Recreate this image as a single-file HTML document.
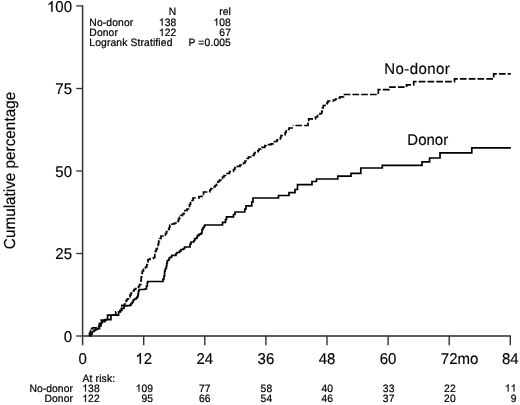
<!DOCTYPE html>
<html><head><meta charset="utf-8"><style>
html,body{margin:0;padding:0;background:#fff;}
svg{display:block;will-change:transform;}
text{font-family:"Liberation Sans",sans-serif;fill:#000;stroke:#000;stroke-width:0.15px;text-rendering:geometricPrecision;}
.s{stroke-width:0.22px;}
#one{fill:#000;stroke:#000;stroke-width:0.18px;vector-effect:non-scaling-stroke;}
</style></head><body>
<svg width="520" height="405" viewBox="0 0 520 405">
<defs><path id="one" d="M763 0H583V1147Q518 1085 412.5 1023Q307 961 223 930V1104Q374 1175 487 1276Q600 1377 647 1472H763Z"/></defs>
<rect width="520" height="405" fill="#fff"/>

<g fill="none">
<path d="M82.6,5.3 V336.6" stroke="#333" stroke-width="1.5"/>
<path d="M82.6,336 H510.3" stroke="#2a2a2a" stroke-width="1.3"/>
<path d="M76.2,5.9 H82.6" stroke="#333" stroke-width="1.3"/>
<path d="M76.2,88.5 H82.6" stroke="#333" stroke-width="1.3"/>
<path d="M76.2,171.0 H82.6" stroke="#333" stroke-width="1.3"/>
<path d="M76.2,253.5 H82.6" stroke="#333" stroke-width="1.3"/>
<path d="M76.2,336.0 H82" stroke="#2a2a2a" stroke-width="1.3"/>
<path d="M143.7,335.4 V345.3" stroke="#333" stroke-width="1.4"/>
<path d="M204.8,335.4 V345.3" stroke="#333" stroke-width="1.4"/>
<path d="M265.9,335.4 V345.3" stroke="#333" stroke-width="1.4"/>
<path d="M327.0,335.4 V345.3" stroke="#333" stroke-width="1.4"/>
<path d="M388.1,335.4 V345.3" stroke="#333" stroke-width="1.4"/>
<path d="M449.2,335.4 V345.3" stroke="#333" stroke-width="1.4"/>
<path d="M510.3,335.4 V345.3" stroke="#333" stroke-width="1.4"/>
<path d="M82.6,336.6 V345.3" stroke="#333" stroke-width="1.5"/>
</g>
<text transform="translate(46.97,11.80) scale(1,1.04)" font-size="15" letter-spacing="0" > 00</text>
<use href="#one" transform="translate(46.97,11.80) scale(0.00732,-0.00732)"/>
<text transform="translate(55.32,94.40) scale(1,1.04)" font-size="15" letter-spacing="0" >75</text>
<text transform="translate(55.32,176.90) scale(1,1.04)" font-size="15" letter-spacing="0" >50</text>
<text transform="translate(55.32,259.40) scale(1,1.04)" font-size="15" letter-spacing="0" >25</text>
<text transform="translate(63.66,341.90) scale(1,1.04)" font-size="15" letter-spacing="0" >0</text>
<text transform="translate(78.43,363.70) scale(1,1.04)" font-size="15" letter-spacing="0" >0</text>
<text transform="translate(135.36,363.70) scale(1,1.04)" font-size="15" letter-spacing="0" > 2</text>
<use href="#one" transform="translate(135.36,363.70) scale(0.00732,-0.00732)"/>
<text transform="translate(196.46,363.70) scale(1,1.04)" font-size="15" letter-spacing="0" >24</text>
<text transform="translate(257.56,363.70) scale(1,1.04)" font-size="15" letter-spacing="0" >36</text>
<text transform="translate(318.66,363.70) scale(1,1.04)" font-size="15" letter-spacing="0" >48</text>
<text transform="translate(379.76,363.70) scale(1,1.04)" font-size="15" letter-spacing="0" >60</text>
<text transform="translate(440.86,363.70) scale(1,1.04)" font-size="15" letter-spacing="0" >72</text>
<text transform="translate(457.54,363.70) scale(1,1.04)" font-size="15" letter-spacing="0" text-anchor="start" >mo</text>
<text transform="translate(501.96,363.70) scale(1,1.04)" font-size="15" letter-spacing="0" >84</text>
<text font-size="15.3" text-anchor="middle" transform="translate(14.8,170.5) rotate(-90) scale(1,1.04)">Cumulative percentage</text>
<text transform="translate(176.40,15.30) scale(1,1.04)" font-size="10.3" letter-spacing="0.14" text-anchor="end" class="s">N</text>
<text transform="translate(231.00,15.30) scale(1,1.04)" font-size="10.3" letter-spacing="0.14" text-anchor="end" class="s">rel</text>
<text transform="translate(89.30,25.60) scale(1,1.04)" font-size="10.3" letter-spacing="0.14" text-anchor="start" class="s">No-donor</text>
<text transform="translate(158.79,25.60) scale(1,1.04)" font-size="10.3" letter-spacing="0.14" class="s"> 38</text>
<use href="#one" transform="translate(158.79,25.60) scale(0.00503,-0.00503)"/>
<text transform="translate(213.39,25.60) scale(1,1.04)" font-size="10.3" letter-spacing="0.14" class="s"> 08</text>
<use href="#one" transform="translate(213.39,25.60) scale(0.00503,-0.00503)"/>
<text transform="translate(89.30,35.90) scale(1,1.04)" font-size="10.3" letter-spacing="0.14" text-anchor="start" class="s">Donor</text>
<text transform="translate(158.79,35.90) scale(1,1.04)" font-size="10.3" letter-spacing="0.14" class="s"> 22</text>
<use href="#one" transform="translate(158.79,35.90) scale(0.00503,-0.00503)"/>
<text transform="translate(219.26,35.90) scale(1,1.04)" font-size="10.3" letter-spacing="0.14" class="s">67</text>
<text transform="translate(89.30,46.30) scale(1,1.04)" font-size="10.3" letter-spacing="0.14" text-anchor="start" class="s">Logrank Stratified</text>
<text transform="translate(231.00,46.30) scale(1,1.04)" font-size="10.3" letter-spacing="0.14" text-anchor="end" class="s">P =0.005</text>
<path d="M89.5,336 V333 H90.5 V330.5 H91.5 V328.8 H92.5 V327.9 H98.6 V326.5 H99.3 V323.5 H100.3 V321 H101.2 V320.2 H107.6 V315.2 H115.8 V311.8 H120.3 V310.5 H121.8 V305.3 H124.5 V304 H125 V302.5 H126.2 V300.5 H127 V299 H128.5 V297 H130 V295 H131 V293 H132.5 V291 H134 V289.5 H135.5 V288.5 H138.5 V286.5 H139.5 V284.5 H140.8 V281 H141.2 V277 H141.7 V273.5 H142.3 V271 H143.5 V269 H145.5 V267 H146.8 V264.5 H147.4 V262 H148 V259.5 H150 V258.5 H153.5 V257.5 H154.8 V254.5 H155.5 V251 H156.2 V249 H157.3 V247 H158.2 V244 H158.7 V241 H159.5 V238.5 H161 V236 H163 V235 H165.5 V233.5 H166.5 V231.5 H167.8 V229.5 H169.2 V227.5 H169.8 V225 H172 V224 H174.5 V223 H177.5 V221.5 H178.5 V219 H179.5 V217 H180.5 V215.5 H182.5 V214 H184 V212 H185 V210.5 H187 V209 H188.5 V207.5 H189.5 V204.5 H190.5 V202.5 H192 V200.5 H193 V198 H199 V196.5 H202 V194.5 H203.5 V192 H209.8 V190 H210.8 V188.5 H212.5 V187 H215 V185.5 H216.5 V183.5 H218 V181.5 H219.5 V180 H221 V178.5 H222.5 V177 H224 V175.5 H225.5 V173.5 H229.5 V171.5 H233.5 V169.5 H234.8 V167.5 H235.5 V166.3 H240 V165 H243.5 V163 H245 V161 H246 V158.5 H248.5 V157 H252.5 V155.5 H254 V153.5 H255 V152.5 H258 V150.5 H259 V149 H261 V148 H262 V147.3 H264.8 V145.5 H266 V144.6 H271 V143.8 H273 V142.6 H274.5 V141.5 H277 V139.8 H280.4 V137.5 H281 V135.5 H283 V134.7 H285.2 V132.5 H286.2 V130.8 H287.3 V129.5 H289 V128 H292.2 V126.2 H293.2 V125.5" fill="none" stroke="#000" stroke-width="1.7" stroke-dasharray="6.7 2.1"/>
<path d="M293.2,125.5 H308 V121.5 H308.7 V118.8 H315.5 V117 H317.5 V115.5 H320 V113.5 H321.8 V111 H322.3 V108 H323.3 V105.5 H325 V104 H327 V102.5 H328 V101 H333.5 V100 H335.5 V99 H338 V98 H340 V96.8 H343.5 V94.5 H378.3 V89.7 H388.9 V87.2 H406.5 V84.8 H413.7 V81.6 H454.5 V78.8 H493.7 V73.8 H510.8" fill="none" stroke="#000" stroke-width="1.7" stroke-dasharray="6.7 2.1" stroke-dashoffset="6.6"/>
<path d="M89.5,336 H90.8 V334 H92.2 V331.5 H94 V330.3 H95.5 V329.4 H97.5 V328.7 H99.5 V326 H101 V323.4 H101.8 V321.7 H105 V319.6 H110.9 V315.2 H118.6 V311.8 H120 V310.5 H121.3 V308.4 H124 V306 H127 V305.7 H130 V305.2 H131 V303.5 H132.3 V302 H133.2 V300 H134.5 V299 H136.2 V298 H137 V297 H137.8 V295.5 H138.2 V293.4 H138.5 V291 H139.2 V289.5 H144.5 V289 H146.5 V286 H147.3 V282.5 H147.9 V281.5 H163 V279 H164 V276 H164.6 V271 H165.3 V268.5 H166.3 V266 H166.8 V263 H167.3 V260.5 H168.8 V259 H169.5 V257.5 H171.3 V256.5 H171.8 V255.3 H176 V253.5 H177 V252.5 H179.5 V251 H181 V249.5 H183.5 V248.5 H184.6 V247 H190 V244 H191 V242 H193.8 V240.5 H194.8 V238.5 H196.8 V237 H197.5 V235.3 H199.2 V234.2 H201.3 V233 H202 V229.5 H203 V227.5 H204.2 V226 H204.8 V225 H222.5 V222.3 H225.5 V219.5 H226.5 V216.8 H233.5 V214.5 H235 V212 H244.8 V209 H246 V205.8 H251.8 V202 H253 V198 H278.5 V195.5 H289 V192.6 H295 V189.5 H297.5 V184.6 H312 V181.5 H316.5 V179 H337.8 V176.2 H351 V173.3 H360.8 V168 H382.3 V165.4 H422 V161.8 H429.6 V158 H440 V152.8 H471.8 V147.9 H510.8" fill="none" stroke="#000" stroke-width="1.7"/>
<text transform="translate(384.30,73.80) scale(1,1.04)" font-size="15" letter-spacing="0.4" text-anchor="start" >No-donor</text>
<text transform="translate(407.30,144.90) scale(1,1.04)" font-size="15" letter-spacing="0" text-anchor="start" >Donor</text>
<text transform="translate(82.60,381.80) scale(1,1.04)" font-size="10.3" letter-spacing="0.14" text-anchor="start" class="s">At risk:</text>
<text transform="translate(73.00,391.60) scale(1,1.04)" font-size="10.3" letter-spacing="0.08" text-anchor="end" class="s">No-donor</text>
<text transform="translate(73.00,401.90) scale(1,1.04)" font-size="10.3" letter-spacing="0.08" text-anchor="end" class="s">Donor</text>
<text transform="translate(82.19,391.60) scale(1,1.04)" font-size="10.3" letter-spacing="0.14" class="s"> 38</text>
<use href="#one" transform="translate(82.19,391.60) scale(0.00503,-0.00503)"/>
<text transform="translate(82.19,401.90) scale(1,1.04)" font-size="10.3" letter-spacing="0.14" class="s"> 22</text>
<use href="#one" transform="translate(82.19,401.90) scale(0.00503,-0.00503)"/>
<text transform="translate(135.59,391.60) scale(1,1.04)" font-size="10.3" letter-spacing="0.14" class="s"> 09</text>
<use href="#one" transform="translate(135.59,391.60) scale(0.00503,-0.00503)"/>
<text transform="translate(141.46,401.90) scale(1,1.04)" font-size="10.3" letter-spacing="0.14" class="s">95</text>
<text transform="translate(198.96,391.60) scale(1,1.04)" font-size="10.3" letter-spacing="0.14" class="s">77</text>
<text transform="translate(198.96,401.90) scale(1,1.04)" font-size="10.3" letter-spacing="0.14" class="s">66</text>
<text transform="translate(260.56,391.60) scale(1,1.04)" font-size="10.3" letter-spacing="0.14" class="s">58</text>
<text transform="translate(260.56,401.90) scale(1,1.04)" font-size="10.3" letter-spacing="0.14" class="s">54</text>
<text transform="translate(321.46,391.60) scale(1,1.04)" font-size="10.3" letter-spacing="0.14" class="s">40</text>
<text transform="translate(321.46,401.90) scale(1,1.04)" font-size="10.3" letter-spacing="0.14" class="s">46</text>
<text transform="translate(382.86,391.60) scale(1,1.04)" font-size="10.3" letter-spacing="0.14" class="s">33</text>
<text transform="translate(382.86,401.90) scale(1,1.04)" font-size="10.3" letter-spacing="0.14" class="s">37</text>
<text transform="translate(444.06,391.60) scale(1,1.04)" font-size="10.3" letter-spacing="0.14" class="s">22</text>
<text transform="translate(444.06,401.90) scale(1,1.04)" font-size="10.3" letter-spacing="0.14" class="s">20</text>
<text transform="translate(504.76,391.60) scale(1,1.04)" font-size="10.3" letter-spacing="0.14" class="s">  </text>
<use href="#one" transform="translate(504.76,391.60) scale(0.00503,-0.00503)"/>
<use href="#one" transform="translate(510.63,391.60) scale(0.00503,-0.00503)"/>
<text transform="translate(510.63,401.90) scale(1,1.04)" font-size="10.3" letter-spacing="0.14" class="s">9</text>
</svg></body></html>
